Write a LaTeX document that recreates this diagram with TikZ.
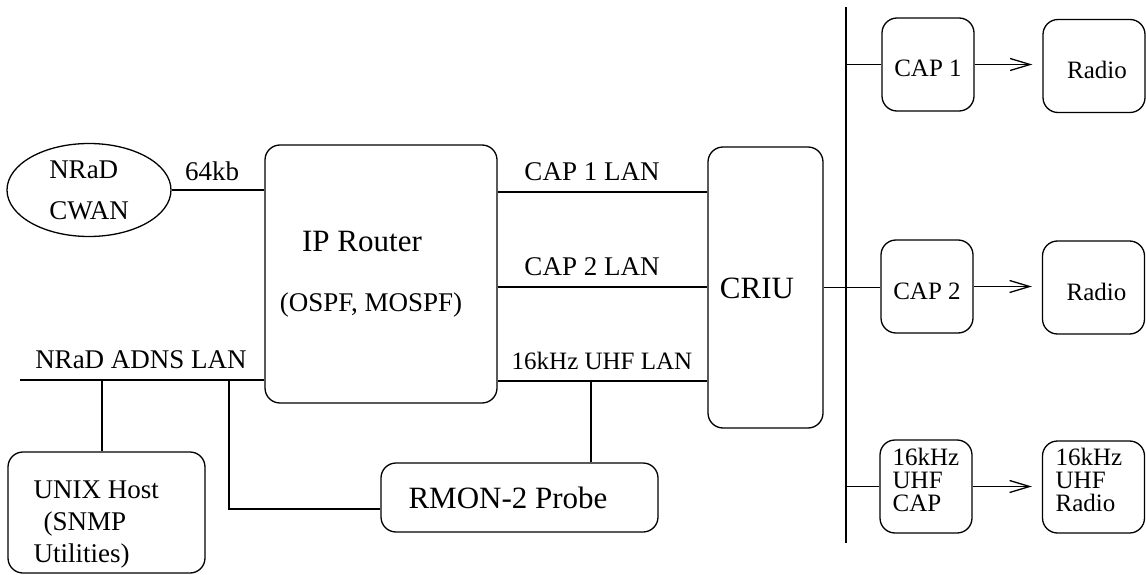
\documentclass[tikz,border=0pt]{standalone}
\usepackage{fontspec}
\setmainfont{Liberation Serif}
\usetikzlibrary{arrows.meta,shapes.geometric,calc}
\begin{document}
\begin{tikzpicture}[x=1pt,y=-1pt, line width=1.3pt,
  box/.style={draw, rounded corners=15pt, inner sep=0pt},
  lbl/.style={inner sep=0pt, anchor=base},
  fA/.style={font=\fontsize{27}{32}\selectfont},
  fB/.style={font=\fontsize{31}{36}\selectfont},
  fC/.style={font=\fontsize{25}{23}\selectfont},
  smallbox/.style={box, minimum width=92pt, minimum height=93pt, fC, text height=25pt, text depth=0pt},
  arr/.style={-{Straight Barb[length=20pt,width=12pt]}, shorten >=10pt}]
\useasboundingbox (0,0) rectangle (1146,575);

% boxes
\node[box, minimum width=232pt, minimum height=258pt] (router) at (381,274) {};
\node[box, minimum width=115pt, minimum height=281pt] (criu) at (765.5,287.5) {};
\node[draw, ellipse, minimum width=164pt, minimum height=93pt, fA, align=left, inner sep=0pt] (cwan) at (89,190) {NRaD\\[9pt]CWAN};
\node[box, minimum width=197pt, minimum height=121pt] (unix) at (106.5,512.5) {};
\node[box, minimum width=277pt, minimum height=69pt] (rmon) at (519.5,497.5) {};
\node[smallbox] (cap1) at (928,64.5) {CAP 1};
\node[smallbox, minimum width=102pt] (radio1) at (1094,66) {\hspace*{6pt}Radio};
\node[smallbox] (cap2) at (927,286.5) {CAP 2};
\node[smallbox, minimum width=102pt] (radio2) at (1093.5,287.5) {\hspace*{6pt}Radio};
\node[box, minimum width=92pt, minimum height=93pt] (cap3) at (926,486.5) {};
\node[box, minimum width=102pt, minimum height=92pt] (radio3) at (1093.5,487) {};

% texts
\node[lbl,fA] (t64) at (212,181) {64kb};
\node[lbl,fB] (tip) at (362,251) {IP Router};
\node[lbl,fA] (tospf) at (371,311) {(OSPF, MOSPF)};
\node[lbl,fA] (tadns) at (141,368) {NRaD ADNS LAN};
\node[lbl,fA] (tcap1) at (592,181) {CAP 1 LAN};
\node[lbl,fA] (tcap2) at (592,275) {CAP 2 LAN};
\node[lbl,fC] (tuhf) at (602,369) {16kHz UHF LAN};
\node[lbl,fB] (tcriu) at (757,298) {CRIU};
\node[lbl,fB] (trmon) at (508,508) {RMON-2 Probe};
\node[anchor=north west, inner sep=0pt, align=left, fA] (tunix) at (33,480) {UNIX Host\\\hspace*{10pt}(SNMP\\Utilities)};
\node[anchor=north west, inner sep=0pt, align=left, fC] (tcap3) at (892,447) {16kHz\\UHF\\CAP};
\node[anchor=north west, inner sep=0pt, align=left, fC] (tradio3) at (1055,447) {16kHz\\UHF\\Radio};

% helper coordinates
\coordinate (busT) at (846,7);
\coordinate (busB) at (846,543);
\coordinate (y1) at (0,192);
\coordinate (y2) at (0,287);
\coordinate (y3) at (0,381);
\coordinate (adnsL) at (20,380);
\coordinate (tapU) at (102,380);
\coordinate (tapR) at (229,380);
\coordinate (rmonIn) at (0,509);
\coordinate (tapH) at (591,381);

% connectors
\draw (busT) -- (busB);
\draw (cwan.east) -- (cwan.east -| router.west);
\draw (router.east |- y1) -- (criu.west |- y1);
\draw (router.east |- y2) -- (criu.west |- y2);
\draw (router.east |- y3) -- (criu.west |- y3);
\draw (adnsL) -- (adnsL -| router.west);
\draw (tapU) -- (tapU |- unix.north);
\draw (tapR) |- (rmon.west |- rmonIn);
\draw (tapH) -- (tapH |- rmon.north);
\draw (criu.east) -- (criu.east -| cap2.west);
\draw (busT |- cap1.west) -- (cap1.west);
\draw (busT |- cap3.west) -- (cap3.west);
\draw[arr] (cap1.east) -- (cap1.east -| radio1.west);
\draw[arr] (cap2.east) -- (cap2.east -| radio2.west);
\draw[arr] (cap3.east) -- (cap3.east -| radio3.west);
\end{tikzpicture}
\end{document}
